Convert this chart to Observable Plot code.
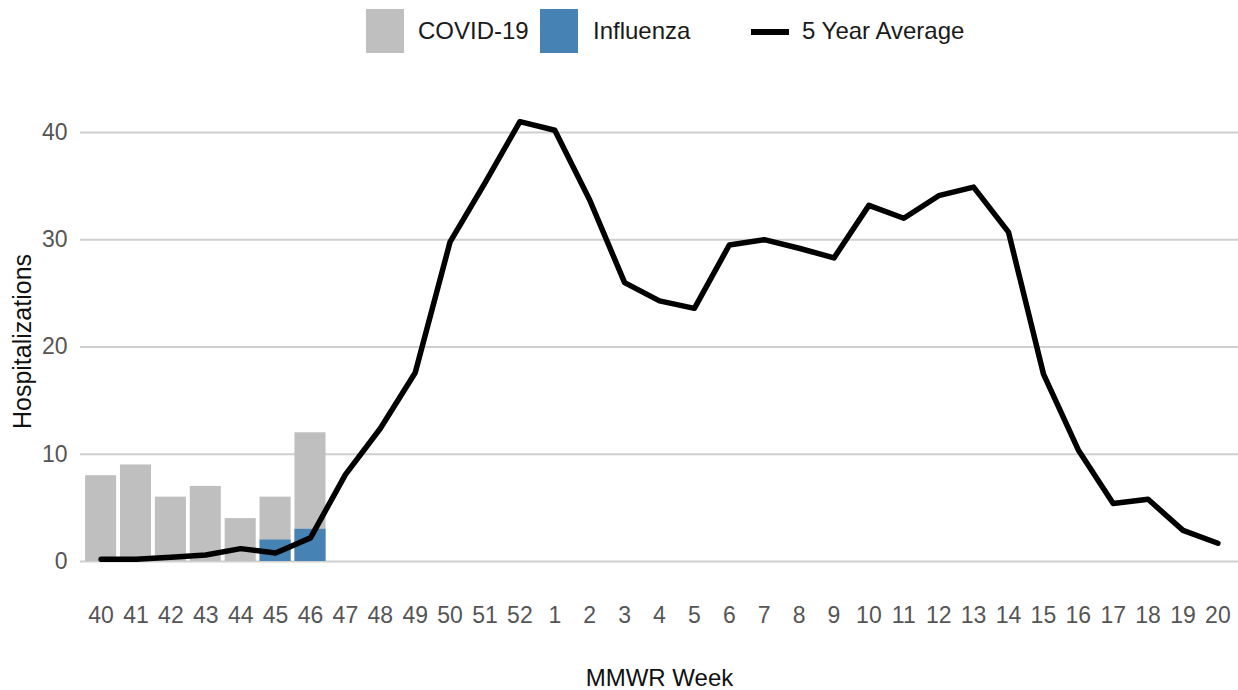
<!DOCTYPE html>
<html>
<head>
<meta charset="utf-8">
<script src="https://cdn.jsdelivr.net/npm/d3@7"></script>
<script src="https://cdn.jsdelivr.net/npm/@observablehq/plot@0.6"></script>
<style>
  html, body { margin: 0; padding: 0; background: #fff; }
  body { width: 1238px; height: 690px; overflow: hidden; font-family: "Liberation Sans", Arial, sans-serif; }
  #legend { position: relative; width: 1238px; height: 62px; }
  #legend .sw { position: absolute; top: 9px; width: 38px; height: 44px; }
  #legend .ln { position: absolute; top: 29px; width: 38px; height: 6px; background: #000; }
  #legend .tx { position: absolute; top: 17px; font-size: 24px; line-height: 28px; color: #1a1a1a; white-space: nowrap; }
  #chart svg { display: block; }
</style>
</head>
<body>
<div id="legend">
  <div class="sw" style="left:366px; background:#bfbfbf"></div>
  <div class="tx" style="left:418px">COVID-19</div>
  <div class="sw" style="left:540px; background:#4682b4"></div>
  <div class="tx" style="left:593px">Influenza</div>
  <div class="ln" style="left:751px"></div>
  <div class="tx" style="left:802px">5 Year Average</div>
</div>
<div id="chart"></div>
<script>
const weeks = ["40","41","42","43","44","45","46","47","48","49","50","51","52",
  "1","2","3","4","5","6","7","8","9","10","11","12","13","14","15","16","17","18","19","20"];
const covidWeeks = ["40","41","42","43","44","45","46"];
const covidValues = [8, 9, 6, 7, 4, 6, 12];
const fluWeeks = ["45","46"];
const fluValues = [2, 3];
const avgValues = [0.2, 0.2, 0.4, 0.6, 1.2, 0.8, 2.2, 8.1, 12.4, 17.6, 29.8, 35.3, 41.0,
  40.2, 33.7, 26.0, 24.3, 23.6, 29.5, 30.0, 29.2, 28.3, 33.2, 32.0, 34.1, 34.9, 30.7, 17.5, 10.4, 5.4, 5.8, 2.9, 1.7];
const yTicks = [0, 10, 20, 30, 40];

const covid = covidWeeks.map((w, i) => ({week: w, value: covidValues[i]}));
const flu = fluWeeks.map((w, i) => ({week: w, value: fluValues[i]}));
const avg = weeks.map((w, i) => ({week: w, value: avgValues[i]}));

const chart = Plot.plot({
  width: 1238,
  height: 628,
  marginLeft: 80,
  marginRight: 0,
  marginTop: 27,
  marginBottom: 129,
  style: {fontFamily: '"Liberation Sans", Arial, sans-serif', fontSize: "23px", color: "#555555", background: "#fff"},
  x: {type: "band", domain: weeks, paddingInner: 0.11, paddingOuter: 0.145, round: false},
  y: {domain: [0, 44]},
  marks: [
    Plot.ruleY(yTicks, {stroke: "#cfcfcf", strokeWidth: 2}),
    Plot.barY(covid, {x: "week", y: "value", fill: "#bfbfbf"}),
    Plot.barY(flu, {x: "week", y: "value", fill: "#4682b4"}),
    Plot.line(avg, {x: "week", y: "value", stroke: "#000", strokeWidth: 5.5}),
    Plot.axisX({tickSize: 0, tickPadding: 45, label: null}),
    Plot.axisY({ticks: yTicks, tickSize: 0, tickPadding: 13, label: null}),
    Plot.text(["MMWR Week"], {frameAnchor: "bottom", dy: 117, lineAnchor: "middle", fill: "#111", fontSize: 24}),
    Plot.text(["Hospitalizations"], {frameAnchor: "left", dx: -58, dy: 16, rotate: -90, textAnchor: "middle", lineAnchor: "middle", fill: "#111", fontSize: 25})
  ]
});
document.getElementById("chart").appendChild(chart);
</script>
</body>
</html>
